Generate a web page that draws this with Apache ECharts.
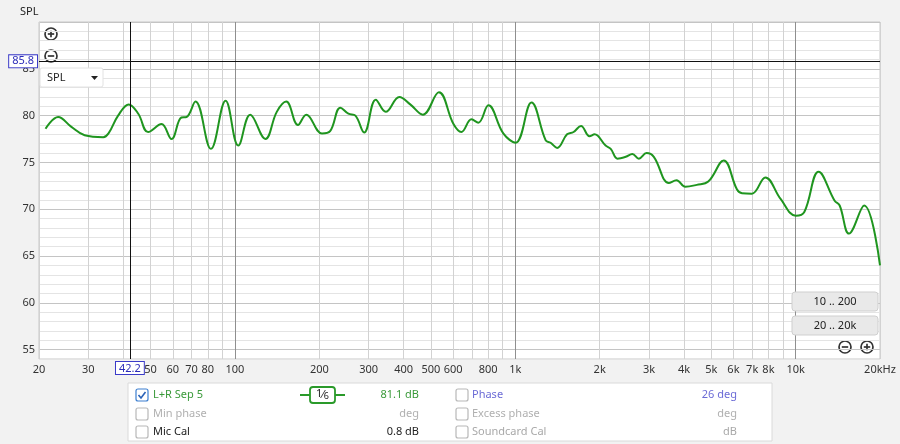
<!DOCTYPE html>
<html><head><meta charset="utf-8">
<script src="https://cdn.jsdelivr.net/npm/echarts@6/dist/echarts.min.js"></script>
<style>html,body{margin:0;padding:0;background:#f2f2f2}#c{width:900px;height:444px}</style>
</head><body><div id="c"></div>
<script>
// Frequency response (Hz) and SPL (dB)
const freqHz = [21.1,23.4,26.1,29.1,33.9,35.4,38.3,41.8,45.2,49.0,54.7,59.4,64.4,67.2,72.3,82.1,92.6,102.8,113.4,128.4,141,152.4,167.8,179.6,204.4,218.5,237.8,254,269,289,318,345,386,422,468,534,602,642,698,738,802,906,1002,1142,1284,1336,1410,1530,1614,1716,1840,1918,2100,2190,2316,2478,2616,2760,2940,3120,3530,3760,4040,4440,4880,5540,6180,6440,6980,7800,8840,10020,10740,12080,13780,14360,15500,17560,20000];
const splDb = [78.6,79.85,78.8,77.9,77.7,78.1,80.0,81.2,80.2,78.25,79.1,77.5,79.8,79.85,81.5,76.45,81.6,76.8,80.1,77.5,80.4,81.5,79.0,80.1,78.1,78.35,80.85,80.2,80.0,78.2,81.7,80.4,82.0,81.2,80.1,82.5,79.1,78.25,79.6,79.25,81.1,78.1,77.1,81.4,77.35,77.1,76.55,78.0,78.25,78.9,77.8,78.0,76.8,76.45,75.4,75.6,75.9,75.4,76.0,75.6,72.8,73.1,72.4,72.6,72.95,75.2,72.1,71.7,71.65,73.4,71.1,69.3,69.7,74.0,70.9,70.4,67.4,70.4,64.0];
const xGridHz = [20,30,40,50,60,70,80,90,100,200,300,400,500,600,700,800,900,1000,2000,3000,4000,5000,6000,7000,8000,9000,10000,20000];
const xLabelHz = [20,30,50,60,70,80,100,200,300,400,500,600,800,1000,2000,3000,4000,5000,6000,7000,8000,10000,20000];
const yMin = 54, yMax = 90;
const cursorHz = 42.2, cursorDb = 85.8;
const seriesName = 'L+R Sep 5';
const legendRows = [
  ['L+R Sep 5','81.1 dB','Phase','26 deg'],
  ['Min phase','deg','Excess phase','deg'],
  ['Mic Cal','0.8 dB','Soundcard Cal','dB']
];

const FONT = 'Noto Sans';
const chart = echarts.init(document.getElementById('c'), null, {renderer:'canvas'});
const data = freqHz.map((f,i)=>[f, splDb[i]]);

function zoomIcon(cx, cy, plus){
  const els = [
    {type:'circle', shape:{cx, cy, r:6}, style:{fill:'none', stroke:'#333', lineWidth:1.7}},
    {type:'line', shape:{x1:cx-3.2, y1:cy, x2:cx+3.2, y2:cy}, style:{stroke:'#333', lineWidth:1.7}}
  ];
  if (plus) els.push({type:'line', shape:{x1:cx, y1:cy-3.2, x2:cx, y2:cy+3.2}, style:{stroke:'#333', lineWidth:1.7}});
  return els;
}
function checkbox(x, y, checked){
  const els = [{type:'rect', shape:{x, y, width:12, height:12, r:2}, style:{fill:'#fff', stroke: checked ? '#3c7fd0' : '#b8b8b8', lineWidth:1.2}}];
  if (checked) els.push({type:'polyline', shape:{points:[[x+2.5,y+6],[x+5,y+9],[x+9.5,y+3]]}, style:{fill:'none', stroke:'#2a62b8', lineWidth:1.6}});
  return els;
}
function txt(x, y, text, color, align){
  return {type:'text', x, y, style:{text, fill:color, font:'11px "'+FONT+'"', textAlign:align||'left', textVerticalAlign:'middle'}};
}

const rowY = [395, 414, 432];
const rowColors = [
  ['#3a9a3a','#3a9a3a','#6b6bd6','#6b6bd6'],
  ['#b0b0b0','#b0b0b0','#b0b0b0','#b0b0b0'],
  ['#222','#222','#a8a8a8','#a8a8a8']
];
let graphics = [
  {type:'text', x:20, y:12, style:{text:'SPL', fill:'#222', font:'11px "'+FONT+'"', textVerticalAlign:'middle'}},
  ...zoomIcon(51,34,true), ...zoomIcon(51,56,false),
  {type:'rect', shape:{x:40, y:68, width:63, height:19, r:2}, style:{fill:'#fff', stroke:'#e2e2e2'}, z:50},
  {type:'text', x:47, y:78, style:{text:'SPL', fill:'#222', font:'11px "'+FONT+'"', textVerticalAlign:'middle'}, z:51},
  {type:'polygon', shape:{points:[[91,76],[98,76],[94.5,80]]}, style:{fill:'#222'}, z:51},
  {type:'rect', shape:{x:792, y:292, width:86, height:19, r:3}, style:{fill:'#e9e9e9', stroke:'#cfcfcf'}, z:50},
  {type:'text', x:835, y:302, style:{text:'10 .. 200', fill:'#222', font:'11px "'+FONT+'"', textAlign:'center', textVerticalAlign:'middle'}, z:51},
  {type:'rect', shape:{x:792, y:316, width:86, height:19, r:3}, style:{fill:'#e9e9e9', stroke:'#cfcfcf'}, z:50},
  {type:'text', x:835, y:326, style:{text:'20 .. 20k', fill:'#222', font:'11px "'+FONT+'"', textAlign:'center', textVerticalAlign:'middle'}, z:51},
  ...zoomIcon(845,347,false), ...zoomIcon(867,347,true),
  {type:'rect', shape:{x:128, y:383, width:644, height:58}, style:{fill:'#fff', stroke:'#dadada'}},
  {type:'line', shape:{x1:300, y1:395, x2:345, y2:395}, style:{stroke:'#2a9a2a', lineWidth:2}},
  {type:'rect', shape:{x:310, y:387, width:25, height:16, r:3}, style:{fill:'#fff', stroke:'#2a9a2a', lineWidth:1.8}},
  {type:'text', x:322.5, y:395, style:{text:'{n|1}{s|⁄}{d|6}', font:'11px "'+FONT+'"', textAlign:'center', textVerticalAlign:'middle',
    rich:{n:{fontSize:11, fill:'#222', fontFamily:FONT, verticalAlign:'top', padding:[0,0,2,0]}, s:{fontSize:11, fill:'#222', fontFamily:FONT}, d:{fontSize:9, fill:'#222', fontFamily:FONT, padding:[3,0,0,0]}}}}
];
legendRows.forEach((r, i) => {
  const y = rowY[i];
  graphics.push(...checkbox(136, y-6, i===0));
  graphics.push(...checkbox(456, y-6, false));
  graphics.push(txt(153, y, r[0], rowColors[i][0]));
  graphics.push(txt(419, y, r[1], rowColors[i][1], 'right'));
  graphics.push(txt(472, y, r[2], rowColors[i][2]));
  graphics.push(txt(737, y, r[3], rowColors[i][3], 'right'));
});

const minorV = '#d2d2d2', majorV = '#8f8f8f';
chart.setOption({
  backgroundColor:'#f2f2f2',
  animation:false,
  textStyle:{fontFamily:FONT},
  grid:{left:39, right:20, top:22, bottom:85, show:true, backgroundColor:'#fff', borderColor:'#c8c8c8', borderWidth:1},
  xAxis:{
    type:'log', logBase:10, min:20, max:20000,
    axisLine:{show:false},
    axisTick:{show:false, customValues:xGridHz},
    splitLine:{show:true, lineStyle:{color:[minorV,minorV,minorV,minorV,minorV,minorV,minorV,minorV,majorV], width:1}},
    minorTick:{show:false}, minorSplitLine:{show:false},
    axisLabel:{customValues:xLabelHz, color:'#333', fontSize:11, margin:5,
      formatter:v => v>=20000 ? '20kHz' : (v>=1000 ? (v/1000)+'k' : String(v))}
  },
  yAxis:{
    type:'value', min:yMin, max:yMax, interval:1,
    axisLine:{show:false}, axisTick:{show:false},
    splitLine:{lineStyle:{color:['#e4e4e4','#c4c4c4','#e4e4e4','#e4e4e4','#e4e4e4'], width:1}},
    axisLabel:{color:'#333', fontSize:11, margin:4,
      formatter:v => (v%5===0 && v<yMax) ? String(v) : ''}
  },
  graphic: graphics,
  series:[{
    name:seriesName, type:'line', data, smooth:0.4, symbol:'none',
    lineStyle:{color:'#1f951f', width:2}, z:3,
    markLine:{
      silent:true, symbol:'none', animation:false,
      lineStyle:{color:'#111', width:1, type:'solid'},
      data:[
        {xAxis:cursorHz, label:{position:'start', distance:3, formatter:String(cursorHz), color:'#2b2bb8', fontSize:11, backgroundColor:'#fff', borderColor:'#3b3bc8', borderWidth:1, padding:[1,3,0,3]}},
        {yAxis:cursorDb, label:{position:'start', distance:2, formatter:String(cursorDb), color:'#2b2bb8', fontSize:11, backgroundColor:'#fff', borderColor:'#3b3bc8', borderWidth:1, padding:[1,3,0,3]}}
      ]
    }
  }]
});
</script></body></html>
